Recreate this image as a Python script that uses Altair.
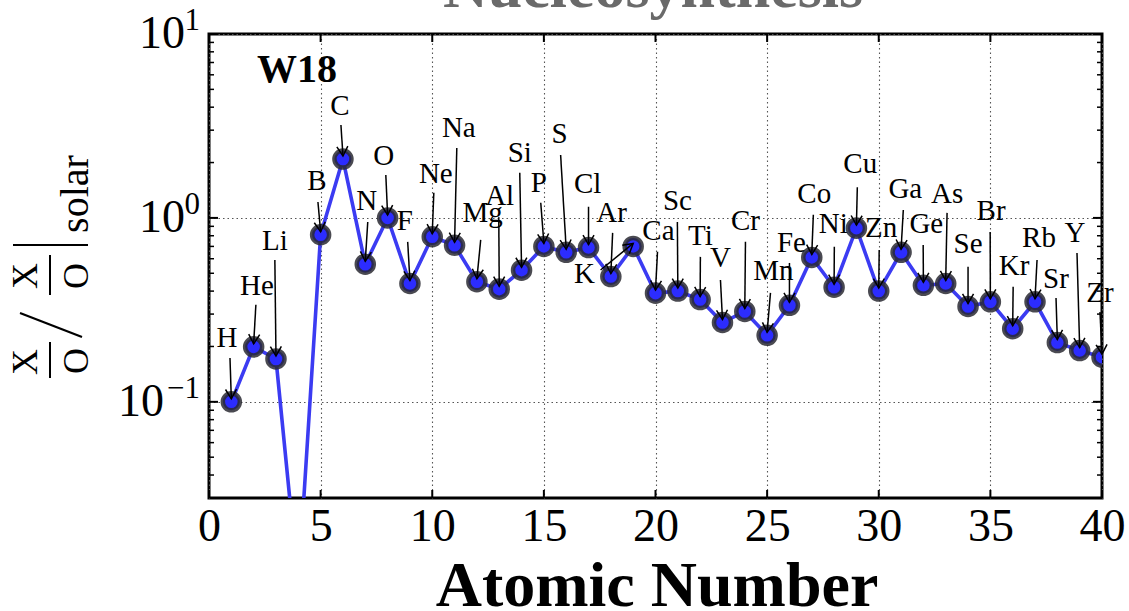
import math
import altair as alt
import pandas as pd

# ---------------- data ----------------
elements = ["H", "He", "Li", "Be", "B", "C", "N", "O", "F", "Ne",
            "Na", "Mg", "Al", "Si", "P", "S", "Cl", "Ar", "K", "Ca",
            "Sc", "Ti", "V", "Cr", "Mn", "Fe", "Co", "Ni", "Cu", "Zn",
            "Ga", "Ge", "As", "Se", "Br", "Kr", "Rb", "Sr", "Y", "Zr"]
atomic_number = list(range(1, 41))
ratio = [0.100, 0.199, 0.171, 0.0101, 0.81, 2.09, 0.56, 1.00, 0.44, 0.79,
         0.71, 0.45, 0.41, 0.52, 0.70, 0.65, 0.69, 0.48, 0.70, 0.39,
         0.40, 0.36, 0.27, 0.31, 0.23, 0.335, 0.61, 0.42, 0.88, 0.40,
         0.65, 0.43, 0.44, 0.33, 0.35, 0.25, 0.35, 0.21, 0.19, 0.175]

# annotation text anchors (data units) and arrow starts (data units); Be has no visible label
label_elements = ["H", "He", "Li", "B", "C", "N", "O", "F", "Ne", "Na", "Mg", "Al", "Si",
                  "P", "S", "Cl", "Ar", "K", "Ca", "Sc", "Ti", "V", "Cr", "Mn", "Fe",
                  "Co", "Ni", "Cu", "Zn", "Ga", "Ge", "As", "Se", "Br", "Kr", "Rb",
                  "Sr", "Y", "Zr"]
label_z = [0.81, 2.15, 2.95, 4.83, 5.86, 7.07, 7.83, 8.77, 10.16, 11.19, 12.26, 13.02, 13.92,
           14.77, 15.70, 16.96, 18.03, 16.82, 20.13, 20.98, 22.01, 22.91, 24.03, 25.28, 26.09,
           27.11, 27.96, 29.17, 30.11, 31.19, 32.13, 33.06, 34.00, 35.03, 36.06, 37.18,
           37.94, 38.79, 39.91]
label_val = [0.199, 0.382, 0.670, 1.42, 3.63, 1.105, 1.94, 0.861, 1.55, 2.76, 0.951, 1.18, 2.02,
             1.38, 2.56, 1.37, 0.951, 0.443, 0.759, 1.105, 0.713, 0.542, 0.861, 0.460, 0.654,
             1.21, 0.829, 1.76, 0.788, 1.28, 0.829, 1.21, 0.645, 0.975, 0.490, 0.696,
             0.417, 0.741, 0.350]
arrow_z = [0.94, 2.10, 2.95, 4.88, 5.91, 7.11, 7.92, 8.90, 10.07, 11.10, 12.17, 12.98, 13.92,
           14.86, 15.75, 17.00, 18.08, 17.54, 20.09, 20.98, 22.01, 22.91, 24.03, 25.15, 26.00,
           27.07, 28.01, 29.04, 30.02, 31.10, 31.99, 33.06, 34.00, 34.99, 36.02, 37.09,
           37.94, 38.88, 39.91]
arrow_val = [0.173, 0.337, 0.591, 1.22, 3.20, 0.951, 1.71, 0.741, 1.37, 2.40, 0.759, 1.01, 1.76,
             1.21, 2.20, 1.15, 0.829, 0.521, 0.654, 0.951, 0.614, 0.460, 0.741, 0.391, 0.569,
             1.04, 0.696, 1.47, 0.670, 1.105, 0.713, 1.065, 0.542, 0.839, 0.422, 0.591,
             0.367, 0.645, 0.308]

x_tick_values = [0, 5, 10, 15, 20, 25, 30, 35, 40]
y_major_values = [0.1, 1, 10]
y_major_exponents = ["\u22121", "0", "1"]
y_minor_values = [0.04, 0.05, 0.06, 0.07, 0.08, 0.09,
                  0.2, 0.3, 0.4, 0.5, 0.6, 0.7, 0.8, 0.9,
                  2, 3, 4, 5, 6, 7, 8, 9]

# ---------------- layout / style ----------------
W, H = 893, 464
YMIN, YMAX = 0.03, 10
XMIN, XMAX = 0, 40
FONT = "'Liberation Serif', 'DejaVu Serif', serif"
HEAD_OFF = -3

df = pd.DataFrame({"Z": atomic_number, "val": ratio, "el": elements})
zmap = dict(zip(elements, atomic_number))
vmap = dict(zip(elements, ratio))
lab = pd.DataFrame({"el": label_elements, "lz": label_z, "lval": label_val,
                    "az": arrow_z, "aval": arrow_val})
lab["Z"] = lab["el"].map(zmap)
lab["val"] = lab["el"].map(vmap)


def px(z):
    return (z - XMIN) / (XMAX - XMIN) * W


def py(v):
    return (math.log10(YMAX) - math.log10(v)) / (math.log10(YMAX) - math.log10(YMIN)) * H


lab["ang"] = [
    math.degrees(math.atan2(-(px(z) - px(a)), (py(v) + HEAD_OFF) - py(b))) % 360
    for z, v, a, b in zip(lab["Z"], lab["val"], lab["az"], lab["aval"])
]

xscale = alt.Scale(domain=[XMIN, XMAX], nice=False, zero=False)
yscale = alt.Scale(type="log", domain=[YMIN, YMAX], nice=False)
grid_kw = dict(grid=True, gridColor="#555555", gridDash=[1.5, 3], gridWidth=1.1)
xaxis = alt.Axis(values=x_tick_values, title=None, ticks=False, tickSize=0, domain=False,
                 labelFont=FONT, labelFontSize=46, labelColor="black", labelPadding=6,
                 labelFlush=False, labelOverlap=False, labelBound=False, **grid_kw)
yaxis = alt.Axis(values=y_major_values, title=None, ticks=False, tickSize=0, domain=False,
                 labels=False, **grid_kw)


def X(f):
    return alt.X(f, type="quantitative", scale=xscale, axis=xaxis)


def Y(f):
    return alt.Y(f, type="quantitative", scale=yscale, axis=yaxis)


line = alt.Chart(df).mark_line(color="#3b3bf2", strokeWidth=3.6, clip=True).encode(
    x=X("Z"), y=Y("val"), order="Z:Q")

points = alt.Chart(df).mark_circle(
    size=290, color="#2c2cff", opacity=1, fillOpacity=1,
    stroke="#2a2a33", strokeOpacity=0.85, strokeWidth=4.5, clip=True
).encode(x=X("Z"), y=Y("val"))

shafts = alt.Chart(lab).mark_rule(color="black", strokeWidth=1.5, y2Offset=HEAD_OFF).encode(
    x=X("az"), y=Y("aval"), x2=alt.X2("Z"), y2=alt.Y2("val"))

heads = alt.Chart(lab).mark_point(
    shape="M-0.55,-0.95L0,0L0.55,-0.95", size=400, filled=False, color="black",
    strokeWidth=1.5, opacity=1, yOffset=HEAD_OFF
).encode(x=X("Z"), y=Y("val"), angle=alt.Angle("ang:Q", scale=None))

labels = alt.Chart(lab).mark_text(
    font=FONT, fontSize=29, color="black", align="center", baseline="alphabetic"
).encode(x=X("lz"), y=Y("lval"), text="el:N")

# inward ticks on all four sides
xt = pd.DataFrame({"x": x_tick_values})
ymaj = pd.DataFrame({"y": y_major_values})
ymin_df = pd.DataFrame({"y": y_minor_values})
tick_kw = dict(color="black", strokeWidth=2)
ticks = [
    alt.Chart(xt).mark_rule(**tick_kw).encode(x=X("x"), y=alt.value(H), y2=alt.value(H - 8)),
    alt.Chart(xt).mark_rule(**tick_kw).encode(x=X("x"), y=alt.value(0), y2=alt.value(8)),
    alt.Chart(ymaj).mark_rule(**tick_kw).encode(y=Y("y"), x=alt.value(0), x2=alt.value(9)),
    alt.Chart(ymaj).mark_rule(**tick_kw).encode(y=Y("y"), x=alt.value(W), x2=alt.value(W - 9)),
    alt.Chart(ymin_df).mark_rule(color="black", strokeWidth=1.5).encode(
        y=Y("y"), x=alt.value(0), x2=alt.value(5)),
    alt.Chart(ymin_df).mark_rule(color="black", strokeWidth=1.5).encode(
        y=Y("y"), x=alt.value(W), x2=alt.value(W - 5)),
]

# y tick labels as 10 with a superscript exponent
ylab = pd.DataFrame({"y": y_major_values, "e": y_major_exponents, "b": ["10"] * 3})
ylabels = [
    alt.Chart(ylab).transform_filter("datum.y >= 1").mark_text(
        font=FONT, fontSize=46, align="right", baseline="middle", color="black"
    ).encode(y=Y("y"), x=alt.value(-24), text="b:N"),
    alt.Chart(ylab).transform_filter("datum.y < 1").mark_text(
        font=FONT, fontSize=46, align="right", baseline="middle", color="black"
    ).encode(y=Y("y"), x=alt.value(-45), text="b:N"),
    alt.Chart(ylab).mark_text(
        font=FONT, fontSize=31, align="right", baseline="middle", color="black", dy=-13
    ).encode(y=Y("y"), x=alt.value(-9), text="e:N"),
]


def txt(t, x, y, **kw):
    return alt.Chart(pd.DataFrame({"t": [t]})).mark_text(**kw).encode(
        text="t:N", x=alt.value(x), y=alt.value(y))


def seg(x1, y1, x2, y2, w=2.2):
    return alt.Chart(pd.DataFrame({"a": [0]})).mark_rule(color="black", strokeWidth=w).encode(
        x=alt.value(x1), x2=alt.value(x2), y=alt.value(y1), y2=alt.value(y2))


deco = [
    txt("Nucleosynthesis", 444, -27, font=FONT, fontSize=62, fontWeight="bold",
        color="#6a6a6a", align="center", baseline="alphabetic"),
    txt("W18", 88, 48, font=FONT, fontSize=40, fontWeight="bold", color="black",
        align="center", baseline="alphabetic"),
    txt("Atomic Number", 448, 572, font=FONT, fontSize=64, fontWeight="bold",
        color="black", align="center", baseline="alphabetic"),
    # y label: X/O / X/O |solar  (rotated)
    txt("X", -172, 328, font=FONT, fontSize=36, angle=270, align="center",
        baseline="alphabetic", color="black"),
    txt("O", -121, 327, font=FONT, fontSize=36, angle=270, align="center",
        baseline="alphabetic", color="black"),
    seg(-159, 308, -159, 344, 2),
    seg(-189, 279, -127, 303, 2.2),
    txt("X", -172, 242, font=FONT, fontSize=36, angle=270, align="center",
        baseline="alphabetic", color="black"),
    txt("O", -121, 242, font=FONT, fontSize=36, angle=270, align="center",
        baseline="alphabetic", color="black"),
    seg(-159, 221, -159, 261, 2),
    seg(-196, 211, -121, 211, 2),
    txt("solar", -121, 160, font=FONT, fontSize=40, angle=270, align="center",
        baseline="alphabetic", color="black"),
]

chart = alt.layer(line, points, shafts, heads, labels, *ticks, *ylabels, *deco).properties(
    width=W, height=H,
    autosize=alt.AutoSizeParams(type="none"),
    padding={"left": 209, "top": 34, "right": 1129 - 209 - W, "bottom": 611 - 34 - H},
    background="white",
).configure_view(stroke="black", strokeWidth=3)

chart.save("out.html", embed_options={"renderer": "svg", "actions": False})
